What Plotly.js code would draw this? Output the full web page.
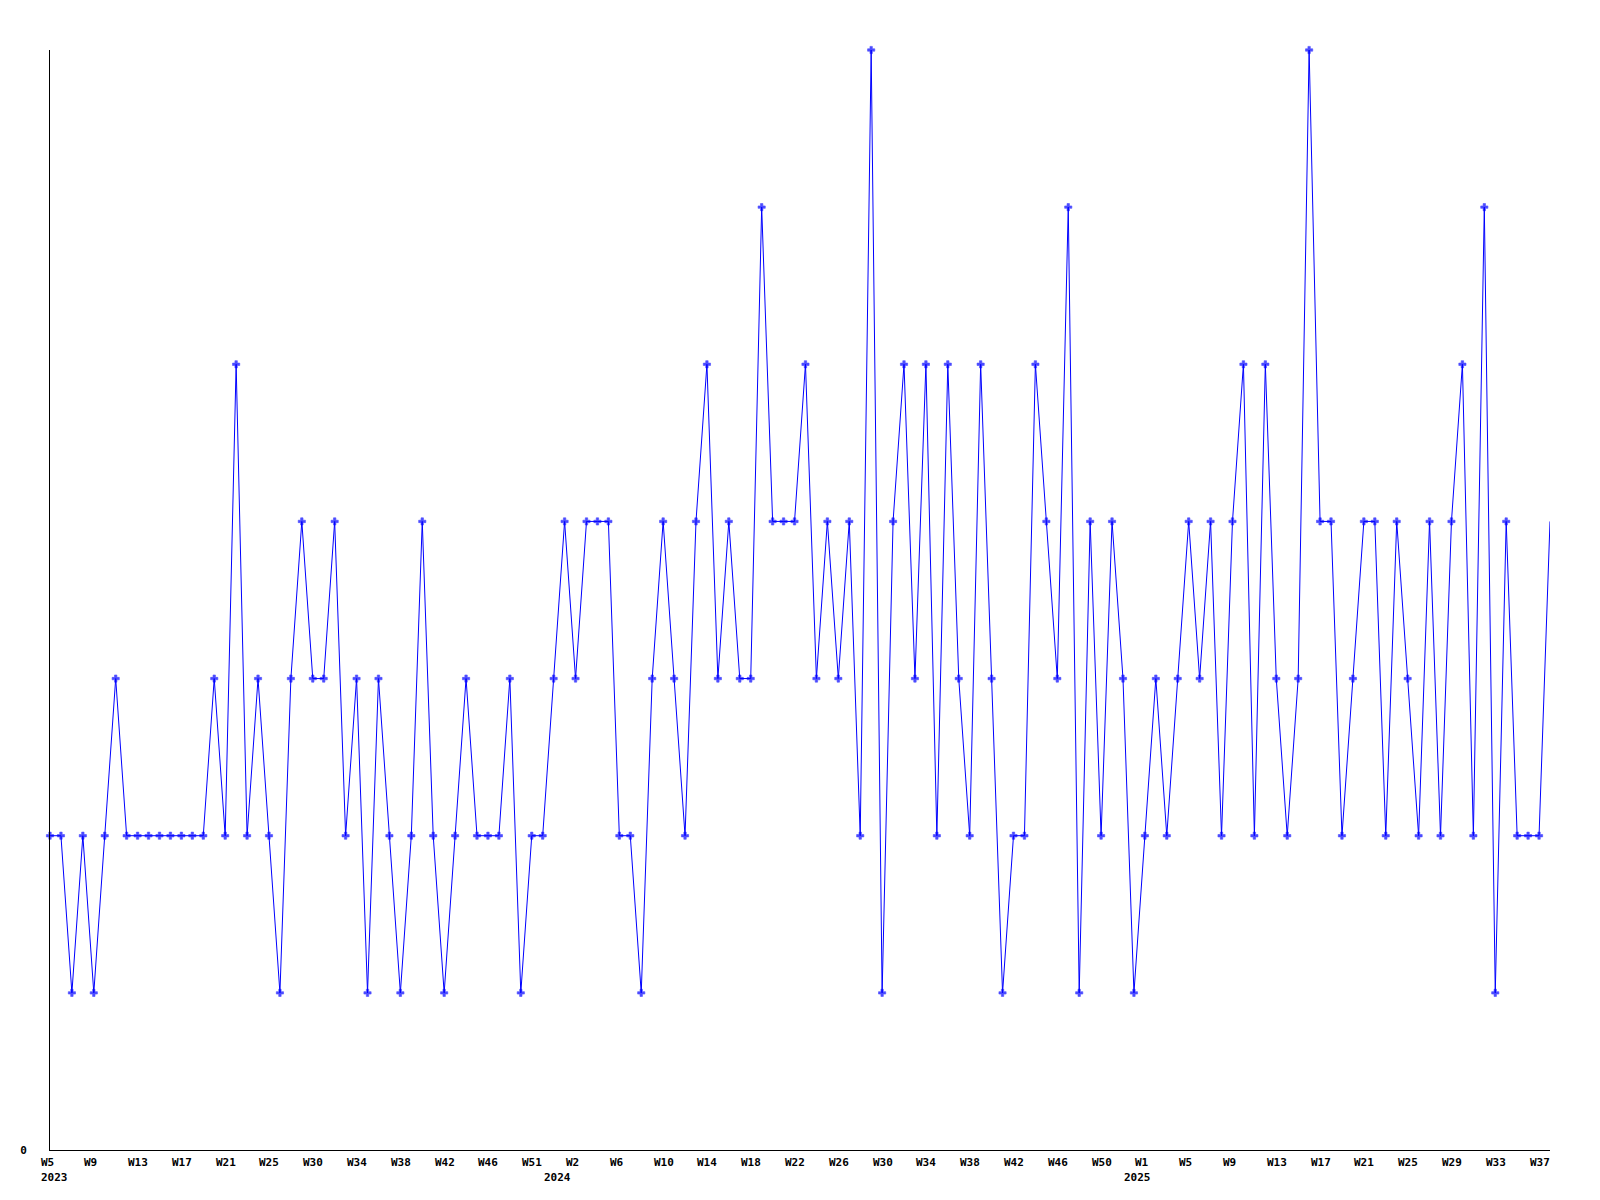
<!DOCTYPE html>
<html>
<head>
<meta charset="utf-8">
<script src="https://cdn.plot.ly/plotly-3.0.1.min.js"></script>
<style>
  html, body { margin: 0; padding: 0; background: #ffffff; }
  #chart { width: 1600px; height: 1200px; }
</style>
</head>
<body>
<div id="chart"></div>
<script>
// Weekly values, 2023 W5 .. 2025 W38 (138 points)
const weeklyValues = [
  2,2,1,2,1,2,3,2,2,2,
  2,2,2,2,2,3,2,5,2,3,
  2,1,3,4,3,3,4,2,3,1,
  3,2,1,2,4,2,1,2,3,2,
  2,2,3,1,2,2,3,4,3,4,
  4,4,2,2,1,3,4,3,2,4,
  5,3,4,3,3,6,4,4,4,5,
  3,4,3,4,2,7,1,4,5,3,
  5,2,5,3,2,5,3,1,2,2,
  5,4,3,6,1,4,2,4,3,1,
  2,3,2,3,4,3,4,2,4,5,
  2,5,3,2,3,7,4,4,2,3,
  4,4,2,4,3,2,4,2,4,5,
  2,6,1,4,2,2,2,4
];

// Week tick labels along the x axis (one every 4 points)
const weekTickLabels = [
  'W5','W9','W13','W17','W21','W25','W30','W34','W38','W42','W46','W51',
  'W2','W6','W10','W14','W18','W22','W26','W30','W34','W38','W42','W46',
  'W50','W1','W5','W9','W13','W17','W21','W25','W29','W33','W37'
];
// Year labels under the week labels, and the point index each sits at
const yearLabels = ['2023', '2024', '2025'];
const yearAtPoint = [0, 46, 99];

const xIdx = weeklyValues.map((_, i) => i);
const xMax = weeklyValues.length - 1;
const markerSizes = weeklyValues.map((_, i) => i === xMax ? 0 : 6);

const labelFont = { family: 'DejaVu Sans Mono, monospace', size: 11, color: '#000000', weight: 'bold' };

const annotations = [];
weekTickLabels.forEach((t, i) => {
  annotations.push({
    x: (i * 4) / xMax, xref: 'paper', y: 0, yref: 'paper',
    text: t, showarrow: false, xanchor: 'left', yanchor: 'middle',
    xshift: -11.5, yshift: -12, font: labelFont
  });
});
yearLabels.forEach((t, i) => {
  annotations.push({
    x: yearAtPoint[i] / xMax, xref: 'paper', y: 0, yref: 'paper',
    text: t, showarrow: false, xanchor: 'left', yanchor: 'middle',
    xshift: -11.5, yshift: -27, font: labelFont
  });
});

const trace = {
  x: xIdx,
  y: weeklyValues,
  type: 'scatter',
  mode: 'lines+markers',
  line: { color: '#0000ff', width: 1 },
  marker: { color: '#0000ff', symbol: 'cross', size: markerSizes, line: { color: '#0000ff', width: 0.6 } },
  cliponaxis: false,
  hoverinfo: 'x+y'
};

const layout = {
  width: 1600,
  height: 1200,
  paper_bgcolor: '#ffffff',
  plot_bgcolor: '#ffffff',
  showlegend: false,
  margin: { l: 50, r: 50, t: 50, b: 50, pad: 0 },
  xaxis: {
    range: [0, xMax],
    showgrid: false,
    zeroline: false,
    showline: true,
    linecolor: '#000000',
    linewidth: 1,
    showticklabels: false,
    ticks: ''
  },
  yaxis: {
    range: [0, 7],
    showgrid: false,
    zeroline: false,
    showline: true,
    linecolor: '#000000',
    linewidth: 1,
    tickmode: 'array',
    tickvals: [0],
    ticktext: ['0'],
    ticks: '',
    ticklabelstandoff: 20,
    tickfont: labelFont
  },
  annotations: annotations
};

Plotly.newPlot('chart', [trace], layout, { displayModeBar: false, staticPlot: true });
</script>
</body>
</html>
